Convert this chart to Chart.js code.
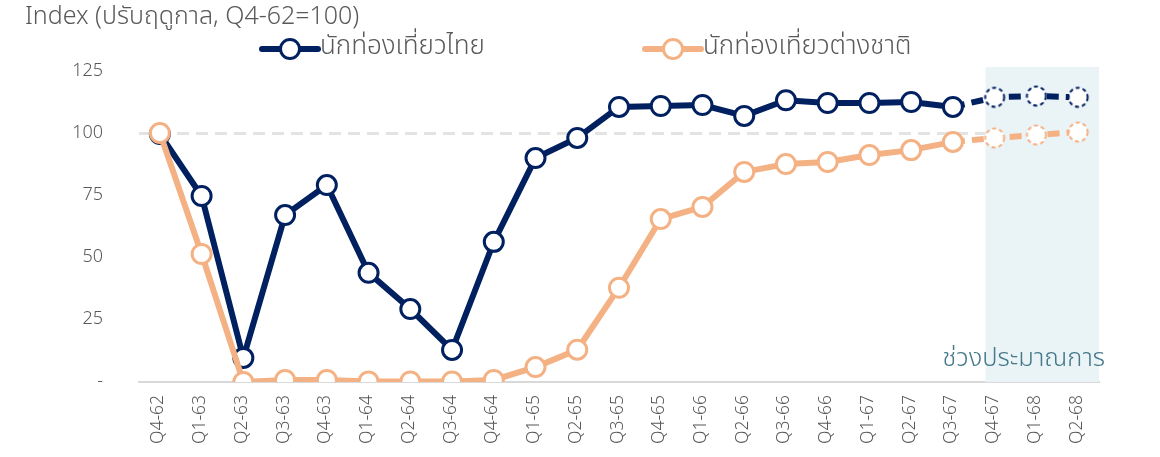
<!DOCTYPE html>
<html><head><meta charset="utf-8">
<script src="https://cdn.jsdelivr.net/npm/chart.js@4/dist/chart.umd.min.js"></script>
<style>html,body{margin:0;padding:0;background:#fff}#wrap{width:1160px;height:457px;position:relative}</style>
</head><body><div id="wrap"><canvas id="c" width="1160" height="457"></canvas></div>
<script>
const categories = ['Q4-62','Q1-63','Q2-63','Q3-63','Q4-63','Q1-64','Q2-64','Q3-64','Q4-64','Q1-65','Q2-65','Q3-65','Q4-65','Q1-66','Q2-66','Q3-66','Q4-66','Q1-67','Q2-67','Q3-67','Q4-67','Q1-68','Q2-68'];
const thaiValues = [100, 75, 9.7, 67.3, 79.4, 44, 29.4, 12.9, 56.5, 90.3, 98.4, 110.9, 111.3, 111.7, 107.3, 113.6, 112.5, 112.5, 112.9, 110.9, 114.8, 115.3, 114.8];
const foreignValues = [100.4, 51.6, 0, 0.8, 0.8, 0.2, 0.2, 0.2, 0.8, 6, 13, 38, 65.7, 70.6, 84.7, 87.9, 88.7, 91.5, 93.5, 96.8, 98.4, 99.6, 100.8];
const yTicks = [0, 25, 50, 75, 100, 125];
const seriesNames = ['นักท่องเที่ยวไทย', 'นักท่องเที่ยวต่างชาติ'];
const titleText = 'Index (ปรับฤดูกาล, Q4-62=100)';
const forecastLabel = 'ช่วงประมาณการ';
const forecastStart = 'Q4-67';

const NAVY = '#002060', ORANGE = '#F4B183', GRAY = '#595959';
const FONT = "'Noto Sans Thai', 'Noto Sans', sans-serif";
const fIdx = categories.indexOf(forecastStart);

function dashedCircle(color) {
  const c = document.createElement('canvas');
  c.width = 26; c.height = 26;
  const g = c.getContext('2d');
  g.beginPath(); g.arc(13, 13, 9.5, 0, Math.PI * 2);
  g.fillStyle = '#fff'; g.fill();
  g.setLineDash([4, 3]); g.lineWidth = 2; g.strokeStyle = color; g.stroke();
  return c;
}
const navyDash = dashedCircle(NAVY), orangeDash = dashedCircle(ORANGE);

function mkDataset(name, values, color, dashImg, order) {
  return {
    label: name, data: values, borderColor: color, backgroundColor: '#fff',
    borderWidth: 6, pointRadius: 9.5, pointBorderWidth: 3, pointBackgroundColor: '#fff',
    pointBorderColor: color, order: order, tension: 0,
    pointStyle: values.map((v, i) => i >= fIdx ? dashImg : 'circle'),
    segment: { borderDash: ctx => ctx.p1DataIndex >= fIdx ? [12, 7] : undefined }
  };
}

const shadePlugin = {
  id: 'shade',
  beforeDatasetsDraw(chart) {
    const { ctx, scales: { x, y } } = chart;
    const left = x.getPixelForValue(fIdx - 0.22);
    const right = x.getPixelForValue(categories.length - 1 + 0.5);
    const top = y.getPixelForValue(127);
    const bottom = y.getPixelForValue(0);
    ctx.save();
    ctx.fillStyle = '#EAF3F6';
    ctx.fillRect(left, top, right - left, bottom - top);
    ctx.restore();
  },
  afterDatasetsDraw(chart) {
    const { ctx, scales: { x, y } } = chart;
    const right = x.getPixelForValue(categories.length - 1 + 0.5);
    ctx.save();
    ctx.font = '300 25.5px ' + FONT;
    ctx.fillStyle = '#44788A';
    ctx.textAlign = 'right'; ctx.textBaseline = 'middle';
    ctx.fillText(forecastLabel, right + 6, y.getPixelForValue(8.5));
    ctx.restore();
  }
};

const legendPlugin = {
  id: 'customLegend',
  afterDraw(chart) {
    const { ctx } = chart;
    const items = [
      { x: 262, color: NAVY, text: seriesNames[0] },
      { x: 645, color: ORANGE, text: seriesNames[1] }
    ];
    const yc = 49;
    ctx.save();
    items.forEach(it => {
      ctx.strokeStyle = it.color; ctx.lineWidth = 6; ctx.lineCap = 'round';
      ctx.beginPath(); ctx.moveTo(it.x, yc); ctx.lineTo(it.x + 56, yc); ctx.stroke();
      ctx.beginPath(); ctx.arc(it.x + 28, yc, 9.5, 0, Math.PI * 2);
      ctx.fillStyle = '#fff'; ctx.fill(); ctx.lineWidth = 3; ctx.stroke();
      ctx.font = '300 26px ' + FONT; ctx.fillStyle = GRAY;
      ctx.textAlign = 'left'; ctx.textBaseline = 'middle';
      ctx.fillText(it.text, it.x + 58, yc);
    });
    ctx.restore();
  }
};

new Chart(document.getElementById('c'), {
  type: 'line',
  data: {
    labels: categories,
    datasets: [
      mkDataset(seriesNames[0], thaiValues, NAVY, navyDash, 1),
      mkDataset(seriesNames[1], foreignValues, ORANGE, orangeDash, 0)
    ]
  },
  options: {
    responsive: false, animation: false,
    layout: { padding: { left: 25, right: 61, top: 0, bottom: 0 } },
    plugins: {
      legend: { display: false },
      tooltip: { enabled: false },
      title: {
        display: true, text: titleText, align: 'start', color: GRAY,
        font: { family: FONT, size: 25, weight: 300 },
        padding: { top: 4, bottom: 38 }
      }
    },
    scales: {
      x: {
        offset: true,
        grid: { display: false, drawTicks: false },
        border: { display: true, color: '#D9D9D9', width: 2 },
        ticks: { color: GRAY, font: { family: FONT, size: 17.5, weight: 300 }, minRotation: 90, maxRotation: 90, padding: 13, autoSkip: false }
      },
      y: {
        min: 0, max: 125,
        afterFit(s) { s.width = 114; },
        afterBuildTicks(s) { s.ticks = yTicks.map(v => ({ value: v })); },
        grid: {
          drawTicks: false, lineWidth: 3,
          color: c => c.tick && c.tick.value === 100 ? '#E3E3E3' : 'rgba(0,0,0,0)'
        },
        border: { display: false, dash: [12, 7] },
        ticks: {
          color: GRAY, font: { family: FONT, size: 18, weight: 300 }, padding: 36,
          callback: v => v === 0 ? '-' : String(v)
        }
      }
    }
  },
  plugins: [shadePlugin, legendPlugin]
});
</script>
</body></html>
